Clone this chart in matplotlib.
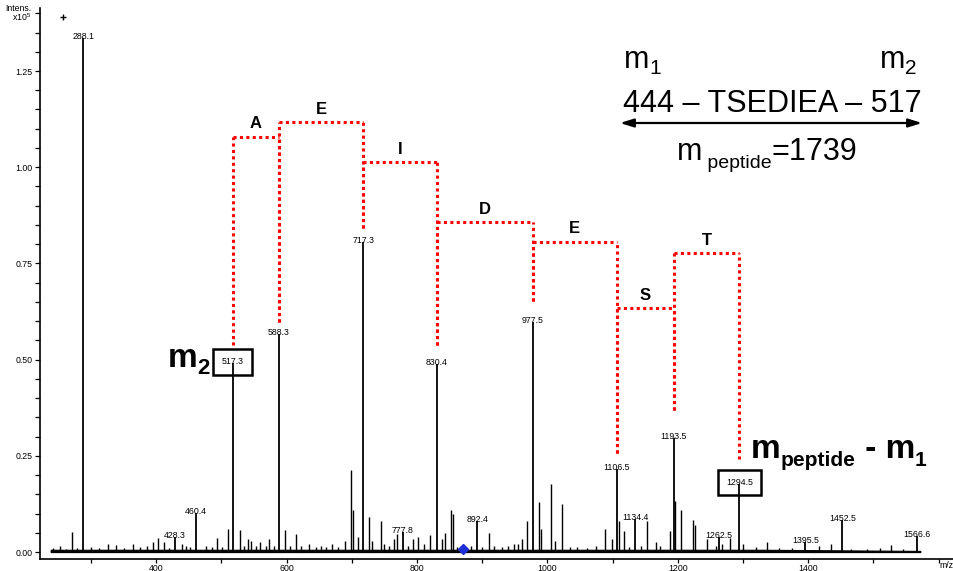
import matplotlib
matplotlib.use("Agg")
import matplotlib.pyplot as plt
from matplotlib.ticker import FixedLocator, FuncFormatter, MultipleLocator

plt.rcParams["font.family"] = ["Liberation Sans", "DejaVu Sans"]
plt.rcParams["mathtext.fontset"] = "custom"
plt.rcParams["mathtext.rm"] = "Liberation Sans"
plt.rcParams["mathtext.bf"] = "Liberation Sans:bold"

# labelled peaks (m/z, intensity x10^5)
peak_mz = [288.1, 428.3, 460.4, 517.3, 588.3, 717.3, 777.8, 830.4, 892.4,
           977.5, 1106.5, 1134.4, 1193.5, 1262.5, 1294.5, 1395.5, 1452.5, 1566.6]
peak_int = [1.336, 0.040, 0.101, 0.491, 0.567, 0.806, 0.052, 0.489, 0.080,
            0.598, 0.216, 0.086, 0.296, 0.039, 0.177, 0.026, 0.083, 0.042]
boxed_peaks = [517.3, 1294.5]

# unlabelled peaks
minor_mz = [241, 252, 262, 270, 278, 300, 312, 326, 338, 350, 364, 375, 385, 395,
            403, 412, 420, 439, 446, 452, 476, 485, 493, 501, 510, 528, 534, 540,
            546, 553, 559, 568, 573, 580, 597, 605, 615, 622, 634, 645, 652, 660,
            669, 678, 689, 699, 702, 709, 726, 731, 744, 750, 757, 764, 769, 786,
            794, 802, 811, 820, 839, 843, 852, 855, 862, 882, 899, 910, 918, 930,
            940, 948, 955, 961, 968, 987, 990, 1005, 1012, 1023, 1035, 1045, 1060,
            1075, 1088, 1099, 1109, 1117, 1125, 1143, 1153, 1166, 1172, 1188, 1196,
            1205, 1224, 1227, 1244, 1258, 1268, 1280, 1300, 1320, 1337, 1355, 1375,
            1417, 1435, 1465, 1490, 1510, 1527, 1545]
minor_int = [0.010, 0.015, 0.008, 0.053, 0.010, 0.012, 0.010, 0.020, 0.018, 0.010,
             0.020, 0.012, 0.015, 0.026, 0.036, 0.027, 0.010, 0.020, 0.015, 0.012,
             0.015, 0.012, 0.036, 0.012, 0.060, 0.057, 0.015, 0.033, 0.030, 0.015,
             0.025, 0.017, 0.033, 0.015, 0.057, 0.015, 0.048, 0.015, 0.020, 0.012,
             0.015, 0.012, 0.022, 0.012, 0.030, 0.213, 0.110, 0.040, 0.090, 0.030,
             0.080, 0.020, 0.015, 0.035, 0.047, 0.015, 0.034, 0.038, 0.020, 0.045,
             0.035, 0.050, 0.110, 0.100, 0.012, 0.015, 0.012, 0.050, 0.015, 0.012,
             0.015, 0.020, 0.020, 0.035, 0.080, 0.130, 0.060, 0.178, 0.030, 0.126,
             0.012, 0.012, 0.010, 0.015, 0.060, 0.035, 0.080, 0.056, 0.012, 0.015,
             0.081, 0.025, 0.015, 0.055, 0.133, 0.110, 0.084, 0.070, 0.035, 0.015,
             0.020, 0.037, 0.020, 0.013, 0.026, 0.010, 0.010, 0.015, 0.020, 0.008,
             0.008, 0.010, 0.018, 0.008]
# baseline "grass" band: start, end, level
grass_mz = [238, 1330, 1572]
grass_level = [0.006, 0.006, 0.003]

# sequence ladder
ladder_mz = [517.3, 588.3, 717.3, 830.4, 977.5, 1106.5, 1193.5, 1294.5]
ladder_bottom = [0.538, 0.598, 0.842, 0.538, 0.652, 0.257, 0.369, 0.242]
residues = ["A", "E", "I", "D", "E", "S", "T"]
step_level = [1.079, 1.117, 1.013, 0.857, 0.806, 0.633, 0.776]

precursor = (870, 0.008)
cross_mark = (257, 1.39)

fig = plt.figure(figsize=(9.54, 5.71), dpi=100)
ax = fig.add_axes([40 / 954, 12 / 571, 914 / 954, 551 / 571])

# spectrum
ax.fill_between(grass_mz, 0, grass_level, color="black", lw=0.8, zorder=2)
ax.vlines(minor_mz, 0, minor_int, color="black", lw=1.0, zorder=2)
ax.vlines(peak_mz, 0, peak_int, color="black", lw=1.3, zorder=3)

for mz, h in zip(peak_mz, peak_int):
    box = None
    if mz in boxed_peaks:
        box = dict(boxstyle="square,pad=0.95", fc="none", ec="black", lw=1.8)
    ax.annotate(f"{mz:.1f}", (mz, h), xytext=(0, 1), textcoords="offset points",
                ha="center", va="center", fontsize=6.3, bbox=box, zorder=4)

ax.plot(*precursor, marker="D", color="#1f2fd6", ms=5, zorder=4)
ax.plot(*cross_mark, marker="+", color="black", ms=4, mew=1, zorder=4)

# ladder of dotted red steps
red = "#ff0000"
for i, res in enumerate(residues):
    x0, x1 = ladder_mz[i], ladder_mz[i + 1]
    lev = step_level[i]
    ax.plot([x0, x1], [lev, lev], color=red, lw=2.2, dashes=(1, 1.1), zorder=5)
    ax.plot([x0, x0], [ladder_bottom[i], lev], color=red, lw=2.2, dashes=(1, 1.1), zorder=5)
    ax.plot([x1, x1], [ladder_bottom[i + 1], lev], color=red, lw=2.2, dashes=(1, 1.1), zorder=5)
    ax.annotate(res, ((x0 + x1) / 2, lev), xytext=(0, 4), textcoords="offset points",
                ha="center", va="bottom", fontsize=12, fontweight="bold")


def axx(px):
    return (px - 40) / 914


def axy(py):
    return (559 - py) / 551


def chain_text(x, parts, **kw):
    # parts: (text, fontsize, baseline in figure pixels from top)
    t = None
    for s, size, base in parts:
        if t is None:
            t = ax.text(x, axy(base), s, transform=ax.transAxes, fontsize=size,
                        ha="left", va="baseline", **kw)
        else:
            t = ax.annotate(s, xy=(1, axy(base)), xycoords=(t, "axes fraction"),
                            fontsize=size, ha="left", va="baseline", **kw)
    return t


# left m2 label
chain_text(axx(168), [("m", 24, 367), ("2", 16, 374)], fontweight="bold")
# m_peptide - m_1
chain_text(axx(751), [("m", 24, 458), ("peptide", 15, 466),
                      (" - m", 24, 458), ("1", 15, 466)], fontweight="bold")

# top right scheme
chain_text(axx(624), [("m", 22, 68), ("1", 15, 74)])
chain_text(axx(880), [("m", 22, 68), ("2", 15, 74)])
ax.text(axx(772), axy(112), "444 \u2013 TSEDIEA \u2013 517",
        transform=ax.transAxes, fontsize=22, ha="center", va="baseline")
ax.annotate("", xy=(axx(922), axy(123)), xytext=(axx(620), axy(123)),
            xycoords="axes fraction",
            arrowprops=dict(arrowstyle="<|-|>,head_length=0.8,head_width=0.25",
                            lw=1.6, color="black", shrinkA=0, shrinkB=0))
chain_text(axx(677), [("m", 22, 160), (" peptide", 14, 168), ("=1739", 22, 160)])

# axes styling
ax.set_xlim(221.6, 1623.6)
ax.set_ylim(-0.018, 1.4137)
for s in ["top", "right"]:
    ax.spines[s].set_visible(False)
ax.spines["left"].set_linewidth(1.2)
ax.spines["bottom"].set_linewidth(1.2)

ax.xaxis.set_major_locator(FixedLocator([400, 600, 800, 1000, 1200, 1400]))
ax.xaxis.set_minor_locator(FixedLocator([300, 500, 700, 900, 1100, 1300, 1500, 1600]))
ax.yaxis.set_major_locator(MultipleLocator(0.25))
ax.yaxis.set_minor_locator(MultipleLocator(0.05))
ax.yaxis.set_major_formatter(FuncFormatter(lambda v, p: f"{v:.2f}"))
ax.tick_params(which="both", direction="out", length=3.5, width=0.9, labelsize=6.3)
ax.tick_params(axis="x", which="both", length=3, pad=0.5)
ax.tick_params(axis="y", pad=2)

fig.text(939 / 954, 5 / 571, "m/z", fontsize=6.3, ha="left", va="center")
fig.text(31 / 954, 1 - 4 / 571, "Intens.\nx10$^5$", fontsize=6.3, ha="right",
         va="top", multialignment="right", linespacing=0.85)

fig.savefig("out.png", dpi=100)
